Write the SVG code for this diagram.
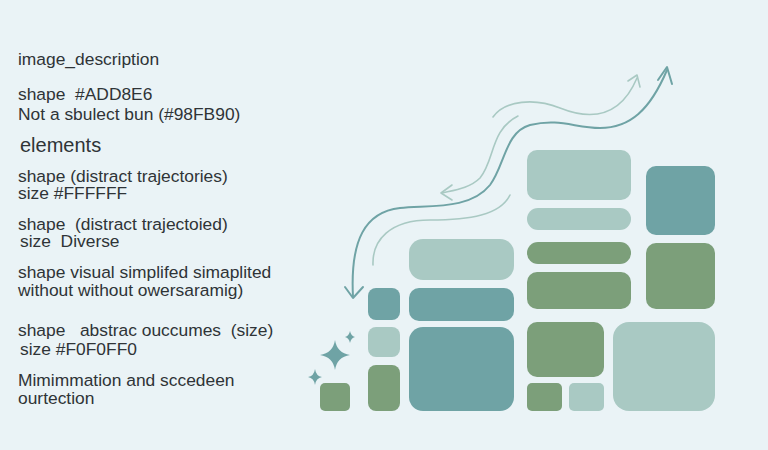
<svg xmlns="http://www.w3.org/2000/svg" width="768" height="450" viewBox="0 0 768 450">
<defs><style>
.t{font-family:"Liberation Sans",Arial,sans-serif;font-size:17.4px;fill:#2f3437;white-space:pre}
.a{fill:#6FA3A5}.l{fill:#A9C9C3}.g{fill:#7C9F7A}
.c{fill:none;stroke-linecap:round;stroke-linejoin:round}
</style></defs>
<rect width="768" height="450" fill="#EAF3F6"/>
<g id="text" xml:space="preserve">
<text class="t" x="18" y="65">image_description</text>
<text class="t" x="18" y="100">shape  #ADD8E6</text>
<text class="t" x="18" y="120">Not a sbulect bun (#98FB90)</text>
<text class="t" x="20" y="152" style="font-size:20px">elements</text>
<text class="t" x="18" y="182">shape (distract trajectories)</text>
<text class="t" x="18" y="199">size #FFFFFF</text>
<text class="t" x="18" y="230">shape  (distract trajectoied)</text>
<text class="t" x="20" y="247">size  Diverse</text>
<text class="t" x="18" y="278">shape visual simplifed simaplited</text>
<text class="t" x="18" y="296">without without owersaramig)</text>
<text class="t" x="18" y="336">shape   abstrac ouccumes  (size)</text>
<text class="t" x="20" y="355">size #F0F0FF0</text>
<text class="t" x="18" y="386">Mimimmation and sccedeen</text>
<text class="t" x="18" y="404">ourtection</text>
</g>
<g id="blocks">
<rect class="g" x="320" y="383" width="30" height="28" rx="5"/>
<rect class="a" x="368" y="288" width="32" height="32" rx="8"/>
<rect class="l" x="368" y="327" width="32" height="30" rx="8"/>
<rect class="g" x="368" y="365" width="32" height="46" rx="8"/>
<rect class="l" x="409" y="239" width="105" height="41" rx="14"/>
<rect class="a" x="409" y="288" width="105" height="33" rx="10"/>
<rect class="a" x="409" y="327" width="105" height="84" rx="14"/>
<rect class="l" x="527" y="150" width="104" height="50" rx="10"/>
<rect class="l" x="527" y="208" width="104" height="22" rx="11"/>
<rect class="g" x="527" y="242" width="104" height="22" rx="11"/>
<rect class="g" x="527" y="272" width="104" height="37" rx="10"/>
<rect class="g" x="527" y="322" width="77" height="55" rx="10"/>
<rect class="g" x="527" y="383" width="35" height="28" rx="5"/>
<rect class="l" x="569" y="383" width="35" height="28" rx="5"/>
<rect class="a" x="646" y="166" width="69" height="69" rx="10"/>
<rect class="g" x="646" y="243" width="69" height="66" rx="10"/>
<rect class="l" x="613" y="322" width="102" height="89" rx="16"/>
</g>
<g id="sparkles" fill="#6FA3A5">
<path d="M335 340 Q337 353 350 355 Q337 357 335 370 Q333 357 320 355 Q333 353 335 340Z"/>
<path d="M350 331 Q351 336 355 337 Q351 338 350 343 Q349 338 345 337 Q349 336 350 331Z"/>
<path d="M315 369 Q316 376 322 377 Q316 378 315 385 Q314 378 308 377 Q314 376 315 369Z"/>
</g>
<g id="connectors">
<path class="c" stroke="#6FA3A5" stroke-width="2" d="M667 70 C650 110 630 128 600 128 C575 128 560 118 530 125 C505 132 505 165 490 185 C470 210 430 205 400 208 C365 212 350 240 353 297"/>
<path class="c" stroke="#6FA3A5" stroke-width="2" d="M658 80 L667 67 L672 84"/>
<path class="c" stroke="#6FA3A5" stroke-width="2" d="M345 287 L353 298 L363 287"/>
<path class="c" stroke="#A9C9C3" stroke-width="1.6" d="M493 117 C505 100 535 98 560 108 C590 120 620 118 637 78"/>
<path class="c" stroke="#A9C9C3" stroke-width="1.6" d="M628 81 L637 75 L640 87"/>
<path class="c" stroke="#A9C9C3" stroke-width="1.6" d="M518 116 C490 130 495 160 480 178 C470 188 455 190 442 193"/>
<path class="c" stroke="#A9C9C3" stroke-width="1.6" d="M452 185 L441 193 L452 200"/>
<path class="c" stroke="#A9C9C3" stroke-width="1.6" d="M510 195 C500 215 470 220 430 220 C390 220 372 240 373 265"/>
</g>
</svg>
